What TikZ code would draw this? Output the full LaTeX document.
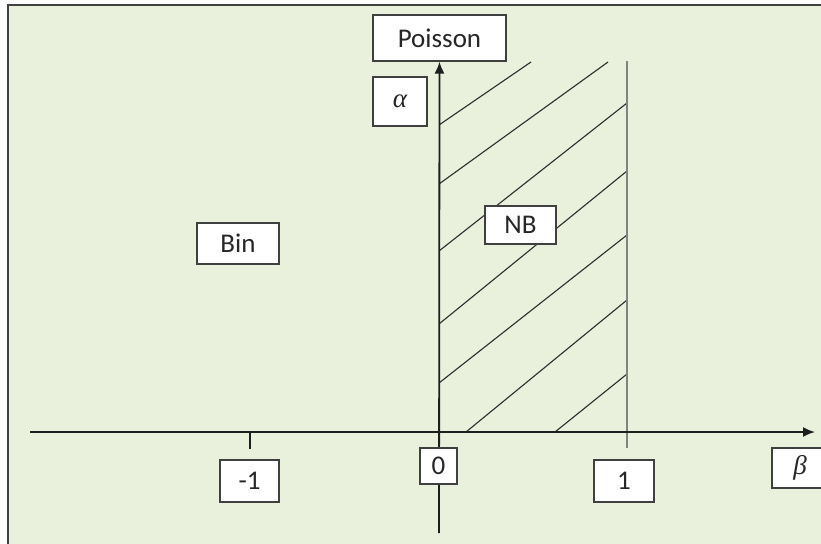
\documentclass[tikz,border=0pt]{standalone}
\usepackage{fontspec}
\setmainfont{Carlito}
\newfontfamily\greekfont{Liberation Serif}
\usetikzlibrary{arrows.meta}
\definecolor{panel}{RGB}{233,240,220}
\definecolor{edge}{RGB}{64,64,64}
\definecolor{axiscol}{RGB}{30,30,30}
\definecolor{hatchcol}{RGB}{45,45,45}
\definecolor{limitcol}{RGB}{130,130,130}
\begin{document}
\begin{tikzpicture}[x=1pt,y=-1pt,
  lbl/.style={draw=edge,line width=1.2pt,fill=white,inner sep=0pt,
    font=\fontsize{27}{30}\selectfont,anchor=center,text=black!85},
  grk/.style={lbl,font=\greekfont\itshape\fontsize{27}{30}\selectfont},
  axisline/.style={draw=axiscol,line width=1.8pt},
  hatchline/.style={draw=hatchcol,line width=1.1pt},
  tip/.style={-{Latex[length=12pt,width=10pt]}}]
\useasboundingbox (0,0) rectangle (821,543);
% panel background and its frame
\fill[panel] (8,5) rectangle (830,550);
\draw[edge,line width=2pt] (8,550) -- (8,5) -- (830,5);

% hatching of the NB region
\draw[hatchline] (439,125) -- (531,62);
\draw[hatchline] (439,184) -- (608,62);
\draw[hatchline] (439,251) -- (627,103);
\draw[hatchline] (439,324) -- (627,171);
\draw[hatchline] (439,383) -- (627,235);
\draw[hatchline] (466,432) -- (627,300);
\draw[hatchline] (555,432) -- (627,374);

% limit line at beta = 1 and tick at beta = -1
\draw[limitcol,line width=1.5pt] (627,61) -- (627,448);
\draw[axiscol,line width=1.4pt] (250,432) -- (250,449);

% labels
\node[lbl,minimum width=133pt,minimum height=46pt] (poisson) at (439.5,38) {Poisson};
\node[grk,minimum width=54pt,minimum height=49pt] (alpha) at (400,101.5) {α};
\node[lbl,minimum width=82pt,minimum height=41pt] (bin) at (238,243.5) {Bin};

% axes
\coordinate (xl) at (30,432);
\coordinate (xr) at (815,432);
\coordinate (vb) at (439,533);
\draw[axisline,tip] (xl) -- (xr);
\draw[axisline,tip] (vb) -- (poisson.south);

\node[lbl,minimum width=71pt,minimum height=38pt] (nb) at (520.5,225) {NB};
\node[lbl,minimum width=37pt,minimum height=36pt] (zero) at (438.5,466) {0};
\node[lbl,minimum width=59pt,minimum height=42pt] (mone) at (249.5,481) {-1};
\node[lbl,minimum width=60pt,minimum height=42pt] (one) at (624,481) {1};
\node[grk,minimum width=56pt,minimum height=40pt] (beta) at (800,468) {β};
\end{tikzpicture}
\end{document}
